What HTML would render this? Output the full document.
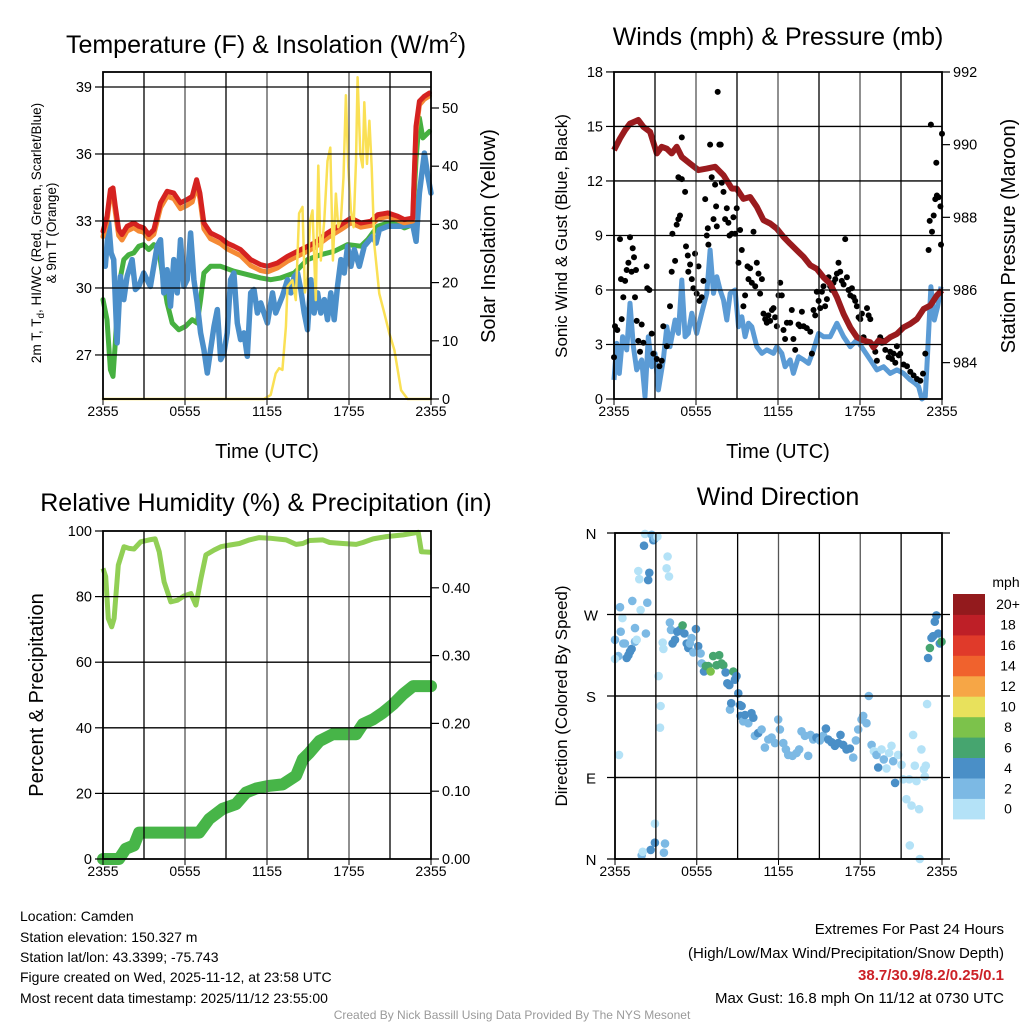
<!DOCTYPE html>
<html><head><meta charset="utf-8"><style>
html,body{margin:0;padding:0;background:#fff;}
svg{display:block;font-family:"Liberation Sans",Arial,sans-serif;}
</style></head><body>
<svg id="chart" width="1024" height="1024" viewBox="0 0 1024 1024" xmlns="http://www.w3.org/2000/svg">
<rect width="1024" height="1024" fill="#fff"/>
<g id="p1"></g>
<g id="p2"></g>
<g id="p3"></g>
<g id="p4"></g>
<g id="labels" fill="#000">
<text x="266" y="53" font-size="25" text-anchor="middle">Temperature (F) &amp; Insolation (W/m<tspan font-size="15" dy="-11">2</tspan><tspan dy="11">)</tspan></text>
<text transform="translate(41,233) rotate(-90)" font-size="13.5" text-anchor="middle">2m T, T<tspan font-size="10" dy="3">d</tspan><tspan dy="-3">, HI/WC (Red, Green, Scarlet/Blue)</tspan></text>
<text transform="translate(56,233) rotate(-90)" font-size="13.5" text-anchor="middle">&amp; 9m T (Orange)</text>
<text transform="translate(495,236) rotate(-90)" font-size="20" text-anchor="middle">Solar Insolation (Yellow)</text>
<text x="267" y="458" font-size="20" text-anchor="middle">Time (UTC)</text>
<text x="778" y="45" font-size="25" text-anchor="middle">Winds (mph) &amp; Pressure (mb)</text>
<text transform="translate(567,236) rotate(-90)" font-size="17" text-anchor="middle">Sonic Wind &amp; Gust (Blue, Black)</text>
<text transform="translate(1015,236) rotate(-90)" font-size="20" text-anchor="middle">Station Pressure (Maroon)</text>
<text x="778" y="458" font-size="20" text-anchor="middle">Time (UTC)</text>
<text x="266" y="511" font-size="25" text-anchor="middle">Relative Humidity (%) &amp; Precipitation (in)</text>
<text transform="translate(43,695) rotate(-90)" font-size="20" text-anchor="middle">Percent &amp; Precipitation</text>
<text x="778" y="505" font-size="25" text-anchor="middle">Wind Direction</text>
<text transform="translate(567,696) rotate(-90)" font-size="17" text-anchor="middle">Direction (Colored By Speed)</text>
<text x="1006" y="587" font-size="14" text-anchor="middle">mph</text>
<g font-size="14">
<text x="20" y="921">Location: Camden</text>
<text x="20" y="942">Station elevation: 150.327 m</text>
<text x="20" y="962">Station lat/lon: 43.3399; -75.743</text>
<text x="20" y="982">Figure created on Wed, 2025-11-12, at 23:58 UTC</text>
<text x="20" y="1003">Most recent data timestamp: 2025/11/12 23:55:00</text>
</g>
<g font-size="15" text-anchor="end">
<text x="1004" y="934">Extremes For Past 24 Hours</text>
<text x="1004" y="958">(High/Low/Max Wind/Precipitation/Snow Depth)</text>
<text x="1004" y="980" fill="#cc2127" font-weight="bold">38.7/30.9/8.2/0.25/0.1</text>
<text x="1004" y="1003">Max Gust: 16.8 mph On 11/12 at 0730 UTC</text>
</g>
<text x="512" y="1019" font-size="12" fill="#9a9a9a" text-anchor="middle">Created By Nick Bassill Using Data Provided By The NYS Mesonet</text>
</g>
</svg>
<script>
// ---------- Panel 1 data ----------
const redT=[0,0.29,0.54,0.73,0.90,1.15,1.39,1.76,2.25,2.62,2.98,3.35,3.72,4.21,4.69,5.18,5.67,6.16,6.53,6.85,7.09,7.38,7.87,8.61,9.09,9.58,10.07,10.81,11.54,12.03,12.76,13.50,14.47,15.45,16.43,17.41,18.14,18.87,19.61,20.1,20.83,21.56,22.05,22.66,22.9,23.15,23.5,23.89];
const redV=[32.54,33.21,34.40,34.48,33.66,32.61,32.39,32.76,32.91,32.76,32.69,32.39,32.61,33.81,34.33,34.25,33.81,33.96,34.10,34.85,34.25,32.91,32.46,32.24,32.01,31.87,31.72,31.27,31.04,30.97,31.12,31.42,31.72,32.01,32.46,32.84,33.13,32.91,32.99,33.28,33.36,33.21,33.06,33.13,37.24,38.36,38.58,38.73];
const orangeV=[32.3,33.0,34.2,34.3,33.4,32.35,32.15,32.55,32.7,32.55,32.5,32.2,32.4,33.6,34.1,34.0,33.55,33.7,33.85,34.6,34.0,32.65,32.2,31.98,31.75,31.6,31.45,31.0,30.78,30.72,30.9,31.2,31.5,31.8,32.25,32.62,32.92,32.72,32.8,33.1,33.2,33.05,32.92,33.0,37.0,38.2,38.45,38.6];
const greenT=[0,0.29,0.54,0.73,0.90,1.15,1.52,1.88,2.25,2.62,2.98,3.35,3.72,4.08,4.33,4.69,5.06,5.55,6.04,6.53,6.89,7.14,7.38,7.87,8.61,9.58,10.56,11.54,12.27,13.01,13.99,14.96,15.94,16.92,17.90,18.87,19.36,20.1,20.83,21.56,22.05,22.66,22.9,23.15,23.4,23.89];
const greenV=[29.48,28.58,26.34,26.04,27.54,30.07,31.27,31.49,31.57,31.87,31.94,31.72,31.94,31.72,30.67,29.33,28.43,28.13,28.28,28.58,28.43,29.48,30.67,30.97,30.97,30.75,30.60,30.45,30.37,30.45,30.67,31.27,31.49,31.64,31.94,31.87,32.16,32.76,32.91,32.84,32.69,32.84,35.75,37.61,36.72,37.01];
const blueT=[0.17,0.42,0.59,0.78,1.03,1.27,1.52,1.76,2.13,2.37,2.62,2.98,3.47,3.96,4.21,4.45,4.69,4.94,5.18,5.43,5.67,5.92,6.16,6.41,6.65,6.89,7.14,7.38,7.63,7.87,8.12,8.36,8.61,8.85,9.09,9.34,9.58,9.83,10.07,10.32,10.56,10.81,11.05,11.30,11.54,11.78,12.03,12.40,12.64,13.13,13.50,13.74,13.99,14.23,14.47,14.72,14.96,15.21,15.45,15.70,15.94,16.19,16.43,16.67,16.92,17.16,17.41,17.65,17.90,18.14,18.39,18.75,19.12,19.73,19.98,20.22,20.83,21.81,22.66,22.91,23.15,23.52,23.77,24.0];
const blueV=[30.97,32.91,31.57,31.27,27.54,30.52,29.48,30.52,31.27,29.93,30.07,30.67,30.07,31.87,32.16,29.78,30.82,29.18,31.27,29.78,32.16,30.07,30.37,32.46,30.37,29.33,27.99,27.24,26.19,27.24,28.28,29.03,26.79,27.09,27.99,30.37,30.67,28.43,27.69,27.99,26.94,29.78,29.93,28.88,29.33,28.88,28.43,29.78,28.88,29.63,30.37,29.78,30.52,30.67,29.93,28.88,28.13,30.37,28.88,29.78,28.88,29.48,28.58,29.78,28.58,30.07,31.27,30.67,31.87,30.97,31.72,30.97,31.87,32.31,32.01,32.61,32.76,32.76,32.84,32.09,34.25,36.04,35.0,34.25];
const solarT=[0,11.78,12.27,12.64,12.89,13.13,13.38,13.50,13.86,14.11,14.35,14.60,14.77,14.96,15.16,15.33,15.57,15.75,15.94,16.19,16.43,16.63,16.82,17.04,17.21,17.41,17.60,17.77,17.95,18.14,18.34,18.51,18.63,18.83,19.0,19.12,19.32,19.49,19.66,19.85,20.22,20.59,20.95,21.32,21.81,22.29,24];
const solarV=[0,0,0.7,4.4,5.3,5.0,12.4,19.3,20.4,17.0,31.9,33.0,18.3,21.0,30.7,32.4,17.0,40.1,23.8,30.7,40.9,43.2,23.8,35.3,29.5,30.7,38.1,52.2,39.8,32.4,29.5,40.9,55.3,42.0,39.8,51.0,40.4,47.8,39.8,26.6,18.1,14.7,11.3,8.4,1.5,0,0];
const tempTicks=[27,30,33,36,39];
const solarTicks=[0,10,20,30,40,50];
const timeLabels=["2355","0555","1155","1755","2355"];

// ---------- Panel 2 data ----------
const windT=[0,0.20,0.39,0.63,0.93,1.17,1.42,1.66,2.03,2.27,2.51,2.76,3.00,3.25,3.61,3.86,4.10,4.47,4.71,4.96,5.20,5.44,5.69,6.05,6.42,6.79,7.03,7.28,7.52,7.76,8.01,8.25,8.50,8.86,9.11,9.35,9.59,9.84,10.08,10.45,10.82,11.18,11.67,11.91,12.28,12.52,12.89,13.13,13.50,13.87,14.23,14.60,14.97,15.33,15.82,16.31,16.80,17.29,17.77,18.26,18.75,19.24,19.73,20.21,20.70,21.19,21.68,22.04,22.29,22.53,22.78,22.95,23.19,23.44,23.68,23.93];
const windV=[1.05,3.06,1.41,3.43,2.70,5.27,2.88,1.60,2.15,0.13,3.43,1.78,2.51,0.50,2.15,3.98,2.88,4.35,3.61,6.55,3.43,3.61,4.72,3.61,4.72,5.82,8.20,5.82,6.73,6.00,5.45,4.35,5.82,6.0,3.98,4.53,3.43,4.17,3.98,2.88,2.51,2.70,2.51,2.88,2.51,1.78,2.15,1.41,2.33,2.15,1.96,2.70,3.61,3.43,3.43,4.17,3.43,2.88,3.25,2.70,2.15,1.60,1.78,1.41,1.60,1.41,1.05,0.86,0.68,0,0.13,2.51,6.18,4.35,5.08,6.18];
const gustT=[0,0.07,0.24,0.44,0.56,0.51,0.68,0.81,0.93,1.05,1.17,1.29,1.37,1.46,1.54,1.61,1.66,1.78,1.90,2.03,2.15,2.39,2.44,2.59,2.76,2.88,3.13,3.32,3.49,3.61,3.86,4.10,4.22,4.27,4.47,4.59,4.71,4.83,4.96,4.71,4.96,5.20,5.27,5.40,5.44,5.57,5.69,5.81,5.93,6.05,6.18,6.25,6.42,6.54,6.67,6.79,6.86,6.91,7.03,7.15,7.28,7.40,7.47,7.52,7.59,7.71,7.81,7.89,8.01,8.13,8.25,8.37,8.45,8.62,8.74,8.86,8.98,9.11,9.23,9.35,9.47,9.59,9.77,9.84,9.96,10.08,10.21,10.33,10.45,10.57,10.69,10.82,10.94,11.06,11.18,11.30,11.43,11.55,11.67,11.79,11.91,12.04,12.16,12.28,12.40,12.52,12.65,12.89,13.01,13.13,13.26,13.50,13.62,13.75,13.87,14.11,14.36,14.48,14.60,14.72,14.84,14.97,15.09,15.21,15.33,15.45,15.58,15.70,15.82,15.94,16.06,16.19,16.31,16.43,16.55,16.67,16.80,16.92,17.04,17.16,17.29,17.41,17.53,17.65,17.77,17.90,18.02,18.14,18.26,18.51,18.63,18.75,18.99,19.12,19.24,19.36,19.48,19.60,19.73,19.85,20.09,20.21,20.34,20.46,20.58,20.70,20.83,20.95,21.19,21.44,21.68,21.92,22.17,22.41,22.61,22.78,23.02,23.10,23.19,23.27,23.39,23.51,23.58,23.63,23.75,23.88,23.93,24.00];
const gustV=[2.3,4.0,3.8,8.8,4.4,6.6,5.6,6.5,7.1,7.5,8.9,7.0,8.3,7.8,5.6,7.1,4.3,3.2,2.6,4.1,3.1,7.3,6.1,6.0,3.6,2.5,2.2,1.8,2.1,4.0,2.9,5.1,7.0,9.1,7.6,9.6,9.9,10.1,14.4,12.2,12.1,11.4,8.4,7.9,7.0,7.4,6.6,6.1,8.0,5.8,7.3,5.4,5.6,6.5,11.0,9.0,9.4,8.5,14.0,12.2,9.9,11.8,10.6,9.5,16.9,14.0,14.0,11.9,11.4,9.9,10.5,9.7,9.0,9.1,10.0,9.1,10.5,7.5,9.3,8.2,5.1,5.7,7.3,6.6,7.2,6.4,9.2,6.2,7.5,6.9,5.8,6.6,4.7,4.4,4.2,4.6,4.3,4.9,5.0,4.5,4.0,5.7,6.4,5.7,3.8,3.3,4.2,4.2,4.9,3.3,2.7,4.1,4.0,4.8,4.0,3.9,3.7,2.5,4.9,4.6,5.9,5.4,5.0,5.9,6.2,5.1,5.5,6.7,6.2,6.0,6.4,6.6,6.9,7.5,7.0,6.5,6.3,8.8,6.7,6.0,5.7,6.1,5.6,5.4,5.1,4.5,4.4,4.7,3.4,5.0,4.6,4.4,3.0,2.6,2.1,3.2,3.4,3.1,3.2,2.7,2.3,2.6,2.2,2.5,2.0,2.9,2.4,2.5,1.9,1.8,1.5,1.3,1.1,1.0,1.4,2.5,8.2,9.8,15.1,9.2,10.1,11.0,13.0,11.2,11.1,10.6,8.5,14.6];
const presT=[0,0.44,0.81,1.17,1.78,2.15,2.64,3.13,3.49,3.86,4.22,4.59,4.96,5.57,6.18,6.79,7.40,8.01,8.62,8.98,9.47,9.96,10.45,10.94,11.43,11.91,12.40,12.89,13.38,13.87,14.36,14.84,15.33,15.82,16.31,16.80,17.29,17.77,18.26,18.75,18.99,19.36,19.73,20.21,20.70,21.19,21.68,22.17,22.66,23.14,23.63,24.0];
const presV=[989.85,990.17,990.40,990.58,990.68,990.49,990.35,989.76,989.94,989.89,989.76,989.94,989.66,989.48,989.30,989.34,989.39,989.16,988.79,988.79,988.51,988.56,988.29,987.92,987.83,987.69,987.46,987.27,987.09,986.91,986.68,986.58,986.35,986.17,985.80,985.34,984.97,984.70,984.61,984.56,984.42,984.61,984.56,984.70,984.79,984.97,985.07,985.20,985.48,985.57,985.85,985.99];
const windTicks=[0,3,6,9,12,15,18];
const presTicks=[984,986,988,990,992];

// ---------- Panel 3 data ----------
const rhT=[0,0.2,0.39,0.64,0.81,1.12,1.54,1.91,2.27,2.76,3.37,3.81,4.11,4.47,4.96,5.45,5.94,6.43,6.80,7.16,7.53,8.14,8.63,9.24,9.98,10.71,11.44,12.18,13.40,14.13,14.62,15.11,16.09,16.58,17.56,18.53,19.02,19.76,20.73,21.96,23.06,23.30,23.99];
const rhV=[88.6,86.1,73.3,70.8,73.3,89.6,95.2,94.7,94.5,96.7,97.3,97.6,93.7,84.5,78.4,78.9,80.2,80.9,77.4,85.5,92.7,94.2,95.2,95.7,96.2,97.3,98.0,97.8,97.3,95.9,96.2,97.1,97.3,96.5,96.2,95.9,96.5,97.6,98.3,98.8,99.6,93.7,93.5];
const prT=[0,1.17,1.66,2.27,2.64,2.89,7.04,7.77,8.75,9.73,10.46,11.20,12.18,13.15,14.13,14.62,15.11,15.84,16.82,18.53,19.02,19.76,20.49,21.22,21.96,22.69,24];
const prV=[0,0,0.015,0.02,0.039,0.039,0.039,0.059,0.074,0.081,0.098,0.104,0.108,0.110,0.123,0.147,0.157,0.174,0.184,0.184,0.199,0.206,0.216,0.228,0.243,0.255,0.255];
const pctTicks=[0,20,40,60,80,100];
const prTicks=[0,0.1,0.2,0.3,0.4];
const prTickLabels=["0.00","0.10","0.20","0.30","0.40"];

// ---------- Panel 4 data ----------
const dirT=[0,0.37,0.54,0.24,0,0.42,0.61,0.73,0.86,0.98,1.10,1.22,1.27,1.47,1.47,1.59,1.71,1.78,1.88,2.13,2.20,2.27,2.37,2.44,2.52,2.69,2.81,2.93,3.11,3.20,3.35,3.30,3.50,3.55,3.79,3.86,3.96,4.03,4.11,4.23,4.40,4.57,4.77,4.96,5.09,5.26,5.38,5.50,5.62,5.75,5.94,6.11,6.28,6.36,6.53,6.67,6.85,7.02,7.21,7.46,7.65,7.82,7.95,8.12,8.24,8.39,8.68,8.80,8.92,9.05,9.17,9.29,8.44,8.53,9.22,9.41,9.54,9.78,10.02,10.15,10.27,10.51,10.76,11.00,11.25,11.49,11.74,11.98,12.10,12.35,12.54,12.71,13.03,13.33,13.52,13.69,13.94,14.18,14.35,14.55,14.79,15.04,15.28,15.48,15.65,15.89,16.14,16.38,16.55,16.75,16.99,17.24,17.48,17.68,17.85,18.09,18.22,18.46,18.63,18.83,19.00,19.19,19.32,19.56,19.73,19.93,20.12,20.29,20.42,20.56,20.78,21.03,21.15,21.39,21.59,21.76,21.88,22.00,22.13,22.32,22.49,22.67,22.81,22.74,22.91,22.98,23.11,23.23,23.35,23.47,23.59,23.72,23.84,23.96,2.93,2.93,2.62,3.67,3.59,1.96,2.03,21.64,22.37,0.29];
const dirV=[242,278,266,224,221,251,238,238,222,225,229,232,285,255,240,242,318,309,275,346,359,249,283,308,316,358,352,354,356,202,169,145,239,232,321,334,312,261,253,238,242,251,253,258,249,238,233,238,244,228,254,235,227,216,207,213,213,207,224,214,225,216,214,206,194,192,207,198,202,183,170,169,165,172,158,152,159,150,161,156,136,139,143,123,132,134,128,154,143,128,121,115,114,117,121,141,136,114,137,132,134,131,136,144,132,129,125,128,137,126,121,122,112,131,143,154,158,150,180,126,119,115,101,121,110,100,117,125,108,84,115,104,88,66,88,59,137,103,86,55,121,99,103,91,171,222,233,244,246,262,269,249,238,240,39,18,10,17,7,4,8,15,0,115];
const dirSpd=[3,3,1,3,1,3,3,3,5,5,5,5,3,3,3,1,1,1,1,5,1,3,3,5,5,3,5,3,1,1,1,1,1,1,1,1,1,3,3,5,5,5,5,7,5,5,5,3,3,3,5,5,3,3,5,7,7,9,7,7,7,7,7,5,5,5,7,5,5,5,5,5,3,5,5,3,5,3,5,5,3,5,3,3,3,3,3,3,3,3,3,3,3,3,3,3,3,3,3,3,5,3,3,5,5,5,5,5,5,5,5,5,3,3,3,3,3,3,3,3,1,3,5,1,3,1,1,1,3,5,1,1,1,1,1,1,1,1,1,1,1,1,1,1,1,5,7,5,5,5,5,5,5,7,1,5,5,3,3,3,1,1,1,1];
const dirTicks=[0,90,180,270,360];
const dirLabels=["N","E","S","W","N"];
const cbLabels=["0","2","4","6","8","10","12","14","16","18","20+"];
const cbColors=["#b4e2f7","#7cb9e4","#4a8fc7","#46a56f","#7cc24b","#e8e15c","#f6a646","#f0622d","#e03a2a","#be1f27","#931a1d"];

// ---------- helpers ----------
const NS="http://www.w3.org/2000/svg";
function mk(parent,tag,attrs){const e=document.createElementNS(NS,tag);for(const k in attrs)e.setAttribute(k,attrs[k]);parent.appendChild(e);return e;}
function linePath(ts,vs,xf,yf){let d="";for(let i=0;i<ts.length;i++){d+=(i?"L":"M")+xf(ts[i]).toFixed(1)+","+yf(vs[i]).toFixed(1);}return d;}
function makeX(x0,x1){return t=>x0+t/24*(x1-x0);}

function frame(g,box,hGridVals,yf,xLabels){
  const xf=makeX(box.x0,box.x1);
  const grid=mk(g,"g",{stroke:"#000","stroke-width":"1.3"});
  
  
  for(let h=3;h<24;h+=3){mk(grid,"line",{x1:xf(h),x2:xf(h),y1:box.y0,y2:box.y1,stroke:(h%6==0?"#555":"#000")});}
  hGridVals.forEach(v=>{const y=yf(v);mk(grid,"line",{x1:box.x0,x2:box.x1,y1:y,y2:y});});
  const fr=mk(g,"rect",{x:box.x0,y:box.y0,width:box.x1-box.x0,height:box.y1-box.y0,fill:"none",stroke:"#000","stroke-width":"1.8"});
  
  
  const xl=mk(g,"g",{"font-size":"14","text-anchor":"middle"});
  
  
  xLabels.forEach((s,i)=>{
    const x=xf(i*6);
    mk(xl,"line",{x1:x,x2:x,y1:box.y1,y2:box.y1+6,stroke:"#000"});
    const t=mk(xl,"text",{x:x,y:box.y1+17});t.textContent=s;
  });
  return xf;
}
function yTicks(g,vals,labels,yf,x,side){
  const tg=mk(g,"g",{"font-size":"14.5","text-anchor":side<0?"end":"start"});
  
  
  vals.forEach((v,i)=>{
    const y=yf(v);
    mk(tg,"line",{x1:x,x2:x+side*8,y1:y,y2:y,stroke:"#000","stroke-width":"1.2"});
    const t=mk(tg,"text",{x:x+side*11,y:y+5});t.textContent=labels[i];
  });
}

// ---------- Panel 1 ----------
(function(){
  const g=document.getElementById("p1");
  const box={x0:103,x1:431,y0:72,y1:399};
  const xf=makeX(box.x0,box.x1);
  const yL=v=>87+(39-v)*22.33;
  const yR=v=>399-v*5.82;
  const series=[[greenT,greenV,"#46b040","green-line",5],[blueT,blueV,"#4b8fca","blue-line",5.5],[redT,orangeV,"#f58a35","orange-line",5],[redT,redV,"#d52220","red-line",5],[solarT,solarV,"#fae055","yellow-insolation-line",2.5]];
  series.forEach(s=>{
    const p=mk(g,"path",{d:linePath(s[0],s[1],xf,s[4]<3?yR:yL),fill:"none",stroke:s[2],"stroke-width":s[4],"stroke-linejoin":"round","stroke-linecap":"round"});
    
    
  });
  frame(g,box,tempTicks,yL,timeLabels);
  yTicks(g,tempTicks,tempTicks.map(String),yL,box.x0,-1);
  yTicks(g,solarTicks,solarTicks.map(String),yR,box.x1,1);
})();

// ---------- Panel 2 ----------
(function(){
  const g=document.getElementById("p2");
  const box={x0:614,x1:942,y0:72,y1:399};
  const xf=makeX(box.x0,box.x1);
  const yL=v=>399-v*18.17;
  const yR=v=>72+(992-v)*36.33;
  const w=mk(g,"path",{d:linePath(windT,windV,xf,yL),fill:"none",stroke:"#5b9bd5","stroke-width":5,"stroke-linejoin":"round"});
  
  
  const dg=mk(g,"g",{fill:"#000"});
  
  
  gustT.forEach((t,i)=>{
    const c=mk(dg,"circle",{cx:xf(t).toFixed(1),cy:yL(gustV[i]).toFixed(1),r:3});
    
    
  });
  const p=mk(g,"path",{d:linePath(presT,presV,xf,yR),fill:"none",stroke:"#9a1b1e","stroke-width":6,"stroke-linejoin":"round"});
  
  
  frame(g,box,windTicks.slice(1,6),yL,timeLabels);
  yTicks(g,windTicks,windTicks.map(String),yL,box.x0,-1);
  yTicks(g,presTicks,presTicks.map(String),yR,box.x1,1);
})();

// ---------- Panel 3 ----------
(function(){
  const g=document.getElementById("p3");
  const box={x0:103,x1:431,y0:531,y1:859};
  const xf=makeX(box.x0,box.x1);
  const yL=v=>859-v*3.28;
  const yR=v=>859-v*678;
  const pr=mk(g,"path",{d:linePath(prT,prV,xf,yR),fill:"none",stroke:"#47b548","stroke-width":12,"stroke-linejoin":"round","stroke-linecap":"round"});
  
  
  const rh=mk(g,"path",{d:linePath(rhT,rhV,xf,yL),fill:"none",stroke:"#91cf55","stroke-width":5,"stroke-linejoin":"round"});
  
  
  frame(g,box,pctTicks.slice(1,5),yL,timeLabels);
  yTicks(g,pctTicks,pctTicks.map(String),yL,box.x0,-1);
  yTicks(g,prTicks,prTickLabels,yR,box.x1,1);
})();

// ---------- Panel 4 ----------
(function(){
  const g=document.getElementById("p4");
  const box={x0:615,x1:942,y0:533,y1:859};
  const xf=makeX(box.x0,box.x1);
  const yf=v=>859-v*0.9056;
  const dg=mk(g,"g",{});
  
  
  dirT.forEach((t,i)=>{
    const ci=Math.min(10,Math.floor(dirSpd[i]/2));
    const c=mk(dg,"circle",{cx:xf(t).toFixed(1),cy:yf(dirV[i]).toFixed(1),r:4.3,fill:cbColors[ci]});
    
    
  });
  frame(g,box,dirTicks.slice(1,4),yf,timeLabels);
  const tg=mk(g,"g",{"font-size":"15","text-anchor":"middle"});
  
  
  dirTicks.forEach((v,i)=>{
    const y=yf(v);
    mk(tg,"line",{x1:box.x0-8,x2:box.x1+8,y1:y,y2:y,stroke:"#000","stroke-width":"1.3"});
    const t=mk(tg,"text",{x:591,y:y+6});t.textContent=dirLabels[i];
  });
  const cb=mk(g,"g",{"font-size":"14","text-anchor":"middle"});
  
  
  const top=594,bh=20.45;
  cbLabels.forEach((s,i)=>{
    const k=10-i;
    const y=top+k*bh;
    const r=mk(cb,"rect",{x:953,y:y.toFixed(1),width:32,height:(bh+0.5).toFixed(1),fill:cbColors[i]});
    
    
    const t=mk(cb,"text",{x:1008,y:(y+bh/2+5).toFixed(1)});t.textContent=s;
  });
})();
</script>
</body></html>
